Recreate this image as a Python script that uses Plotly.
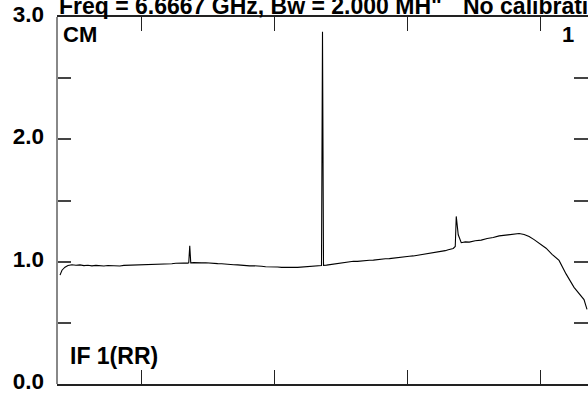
import plotly.graph_objects as go

# channel index (arbitrary units) and amplitude
channel = [3, 5, 8, 11, 15, 19, 23, 27, 31, 35, 39, 43, 47, 51, 55, 59, 63, 67, 71, 75, 79, 83,
           87, 91, 95, 99, 103, 107, 111, 115, 119, 123, 127, 131, 132,
           133, 134, 137, 141, 145, 149, 153, 157, 161, 165, 169, 173, 177, 181, 185, 189, 193,
           197, 201, 205, 209, 213, 217, 221, 225, 229, 233, 237, 241, 245, 249, 253, 257, 261,
           265, 266, 267, 270, 273, 277, 281, 285, 289, 293, 297, 301, 305, 309, 313, 317, 321,
           325, 329, 333, 337, 341, 345, 349, 353, 357, 361, 365, 369, 373, 377, 381, 385,
           389, 392, 395, 397, 399, 400, 402, 405, 409, 413, 419, 425, 431, 437, 443, 448, 453,
           458, 463, 468, 473, 478, 483, 490, 496, 503, 510, 518, 528, 531]
amplitude = [0.89, 0.93, 0.955, 0.968, 0.975, 0.971, 0.974, 0.968, 0.971, 0.966, 0.970, 0.967,
             0.965, 0.969, 0.966, 0.968, 0.965, 0.970, 0.971, 0.969, 0.973, 0.972, 0.976, 0.974,
             0.979, 0.977, 0.981, 0.980, 0.984, 0.983, 0.987, 0.985, 0.989, 0.988, 0.991,
             1.13, 0.99, 0.992, 0.994, 0.990, 0.991, 0.987, 0.988, 0.984, 0.983, 0.979, 0.980,
             0.975, 0.974, 0.970, 0.971, 0.966, 0.967, 0.962, 0.963, 0.959, 0.960, 0.956, 0.957,
             0.953, 0.955, 0.952, 0.954, 0.953, 0.956, 0.955, 0.959, 0.961, 0.963,
             0.968, 2.88, 0.970, 0.972, 0.976, 0.980, 0.987, 0.991, 0.997, 1.000, 1.003, 1.002,
             1.007, 1.008, 1.012, 1.013, 1.018, 1.019, 1.024, 1.025, 1.030, 1.031, 1.037, 1.039,
             1.044, 1.047, 1.052, 1.056, 1.060, 1.067, 1.071, 1.078, 1.084,
             1.090, 1.098, 1.101, 1.108, 1.124, 1.37, 1.22, 1.155, 1.162, 1.160, 1.171, 1.176,
             1.19, 1.197, 1.211, 1.216, 1.222, 1.228, 1.23, 1.222, 1.205, 1.18, 1.15, 1.11, 1.06,
             1.01, 0.90, 0.79, 0.69, 0.61, 0.55, 0.52, 0.515]

y_tickvals = [0, 0.5, 1, 1.5, 2, 2.5, 3]
y_ticktext = ["0.0", "", "1.0", "", "2.0", "", "3.0"]
x_tickvals = [85, 218, 351, 484]

title_text = 'Freq = 6.6667 GHz, Bw = 2.000 MH"'
title_text2 = "No calibration"
corner_tl = "CM"
corner_tr = "1"
corner_bl = "IF 1(RR)"

FONT = "Liberation Sans, Arial, Helvetica, sans-serif"

fig = go.Figure()
fig.add_trace(go.Scatter(x=channel, y=amplitude, mode="lines",
                         line=dict(color="black", width=1.1), hoverinfo="skip"))

fig.update_layout(
    width=588, height=397,
    margin=dict(l=57, r=0, t=17, b=13),
    paper_bgcolor="white", plot_bgcolor="white",
    showlegend=False,
    font=dict(family=FONT, color="black"),
    xaxis=dict(range=[0, 532], showgrid=False, zeroline=False,
               showline=True, linecolor="#222", linewidth=2, mirror="ticks",
               ticks="inside", ticklen=14, tickwidth=1.3, tickcolor="#222",
               tickvals=x_tickvals, showticklabels=False),
    yaxis=dict(range=[0, 3], showgrid=False, zeroline=False,
               showline=False, mirror="ticks",
               ticks="inside", ticklen=14, tickwidth=1.5, tickcolor="#444",
               tickvals=y_tickvals, ticktext=y_ticktext,
               tickfont=dict(family=FONT, size=22.5, color="black", weight="bold"),
               ticklabelstandoff=12, ticklabelshift=-3),
    shapes=[dict(type="line", xref="paper", yref="paper", x0=0, x1=0, y0=0, y1=1,
                 line=dict(color="#888", width=2))],
)

def px_x(px):
    return (px - 57) / 531

def px_y(py):
    return (384 - py) / 367

def ann(text, x, y, xanchor, yanchor, size):
    fig.add_annotation(text=text, xref="paper", yref="paper", x=x, y=y,
                       xanchor=xanchor, yanchor=yanchor, showarrow=False,
                       font=dict(family=FONT, size=size, color="black", weight="bold"))

ann(title_text, px_x(57), px_y(5.6), "left", "middle", 23)
ann(title_text2, px_x(461), px_y(5.6), "left", "middle", 23)
ann(corner_tl, px_x(61), px_y(34), "left", "middle", 22)
ann(corner_tr, px_x(576), px_y(34), "right", "middle", 22)
ann(corner_bl, px_x(68), px_y(356), "left", "middle", 23)

fig.write_html("out.html", config={"displayModeBar": False},
               post_script="document.body.style.margin='0';")
